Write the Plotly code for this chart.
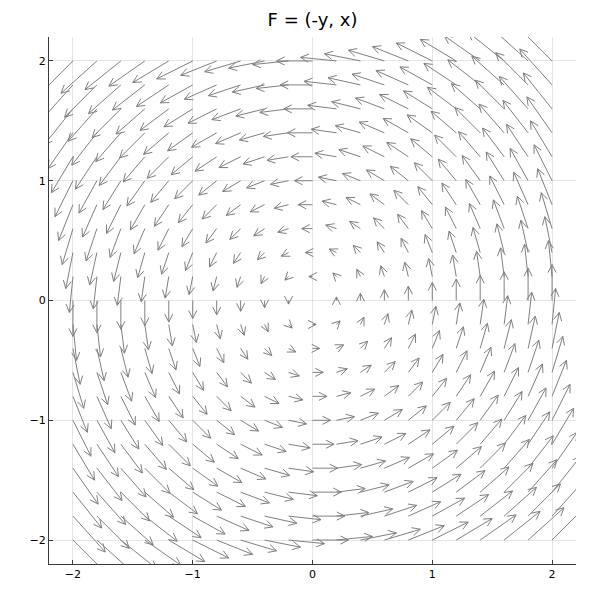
import numpy as np
import plotly.graph_objects as go

# Grid points where the field is sampled
grid_x = [-2.0, -1.8, -1.6, -1.4, -1.2, -1.0, -0.8, -0.6, -0.4, -0.2, 0.0,
          0.2, 0.4, 0.6, 0.8, 1.0, 1.2, 1.4, 1.6, 1.8, 2.0]
grid_y = [-2.0, -1.8, -1.6, -1.4, -1.2, -1.0, -0.8, -0.6, -0.4, -0.2, 0.0,
          0.2, 0.4, 0.6, 0.8, 1.0, 1.2, 1.4, 1.6, 1.8, 2.0]
tick_vals = [-2, -1, 0, 1, 2]
tick_text = ["−2", "−1", "0", "1", "2"]
title_text = "F = (-y, x)"

# Vector field F = (-y, x), as stated in the title
def field(x, y):
    return -y, x

arrow_scale = 0.15      # quiver scaling
head_back = 0.067       # arrowhead arm length along shaft (data units)
head_side = 0.034       # arrowhead half width (data units)

X, Y = np.meshgrid(np.array(grid_x), np.array(grid_y))
U, V = field(X, Y)
U = U * arrow_scale
V = V * arrow_scale

xs, ys = [], []
for x0, y0, u, v in zip(X.ravel(), Y.ravel(), U.ravel(), V.ravel()):
    n = np.hypot(u, v)
    if n < 1e-12:
        continue
    x1, y1 = x0 + u, y0 + v
    dx, dy = u / n, v / n
    px, py = -dy, dx
    xs += [x0, x1, None]
    ys += [y0, y1, None]
    xs += [x1 - head_back * dx + head_side * px, x1,
           x1 - head_back * dx - head_side * px, None]
    ys += [y1 - head_back * dy + head_side * py, y1,
           y1 - head_back * dy - head_side * py, None]

fig = go.Figure()
fig.add_trace(go.Scatter(x=xs, y=ys, mode="lines",
                         line=dict(color="rgb(128,128,128)", width=1),
                         hoverinfo="skip", showlegend=False))

axis_common = dict(
    range=[-2.2, 2.2], tickvals=tick_vals, ticktext=tick_text,
    showgrid=True, gridcolor="rgba(0,0,0,0.1)", gridwidth=1,
    zeroline=False, showline=True, linecolor="#3a3a3a", linewidth=1,
    ticks="inside", ticklen=4, tickcolor="#3a3a3a",
    tickfont=dict(family="DejaVu Sans", size=11, color="#000000"),
    mirror=False, fixedrange=True,
)
fig.update_xaxes(**axis_common)
fig.update_yaxes(**axis_common)

# The page body adds an 8px offset, so the figure is 592 wide/tall
fig.update_layout(
    width=592, height=592,
    margin=dict(l=41, r=24, t=29, b=36),
    paper_bgcolor="white", plot_bgcolor="white",
    title=dict(text=title_text, x=0.5, xref="paper", xanchor="center",
               y=1 - 5 / 592, yref="container", yanchor="top", pad=dict(t=0),
               font=dict(family="DejaVu Sans", size=18, color="#000000")),
    showlegend=False,
)

fig.write_html("out.html")
